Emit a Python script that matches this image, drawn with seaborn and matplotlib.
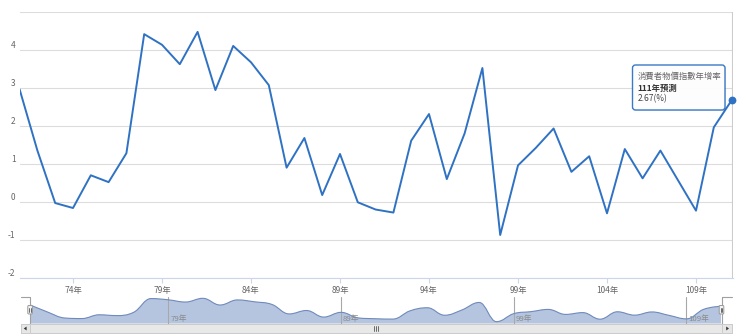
import matplotlib
matplotlib.use("Agg")
import matplotlib.pyplot as plt
import seaborn as sns
import pandas as pd
from matplotlib.path import Path
from matplotlib.patches import PathPatch, FancyBboxPatch, Rectangle, Polygon
from matplotlib.lines import Line2D
from matplotlib.transforms import IdentityTransform, blended_transform_factory

# ---------------- data ----------------
years = list(range(71, 112))
cpi_growth = [2.96, 1.35, -0.03, -0.16, 0.70, 0.52, 1.28, 4.41, 4.13, 3.62,
              4.47, 2.94, 4.10, 3.67, 3.07, 0.90, 1.68, 0.18, 1.26, -0.01,
              -0.20, -0.28, 1.61, 2.31, 0.60, 1.80, 3.52, -0.87, 0.96, 1.42,
              1.93, 0.79, 1.20, -0.30, 1.39, 0.62, 1.35, 0.56, -0.23, 1.96,
              2.67]
x_tick_years = [74, 79, 84, 89, 94, 99, 104, 109]
nav_tick_years = [79, 89, 99, 109]
y_ticks = [-2, -1, 0, 1, 2, 3, 4, 5]
y_tick_labels = ["-2", "-1", "0", "1", "2", "3", "4", ""]
series_name = "消費者物價指數年增率"
tooltip_header = "111年預測"
tooltip_value = f"{cpi_growth[-1]:.2f}(%)"

df = pd.DataFrame({"year": years, "cpi": cpi_growth})

# ---------------- style ----------------
sns.set_style("white")
plt.rcParams["font.family"] = ["Noto Sans CJK TC", "DejaVu Sans"]
plt.rcParams["axes.unicode_minus"] = False

BLUE = "#2f72c4"
W, H = 740, 335
fig = plt.figure(figsize=(W / 100, H / 100), dpi=100)
fig.patch.set_facecolor("white")


def fx(px):
    return px / W


def fy(py):
    return 1 - py / H


PX = IdentityTransform()

# ---------------- main chart ----------------
left_px, right_px = 19.6, 733.0
per_year = 17.8
ax = fig.add_axes([fx(left_px), fy(278), fx(right_px) - fx(left_px), fy(11.7) - fy(278)])
sns.lineplot(data=df, x="year", y="cpi", ax=ax, color=BLUE, linewidth=1.4, zorder=4)
ax.axvline(years[-1], color="#cccccc", lw=0.8, zorder=2)
ax.plot(years[-1], cpi_growth[-1], "o", ms=4.6, color=BLUE, clip_on=False, zorder=6)

ax.set_xlim(years[0], years[0] + (right_px - left_px) / per_year)
ax.set_ylim(-2, 5)
ax.set_yticks(y_ticks)
ax.set_yticklabels(y_tick_labels)
ax.set_xticks(x_tick_years)
ax.set_xticklabels([f"{y}年" for y in x_tick_years])
ax.set_xlabel("")
ax.set_ylabel("")
ax.yaxis.grid(True, color="#dcdcdc", lw=0.8, zorder=1)
ax.xaxis.grid(False)
for s in ["left", "top", "right"]:
    ax.spines[s].set_visible(False)
ax.spines["bottom"].set_color("#ccd6eb")
ax.spines["bottom"].set_linewidth(0.8)
ax.tick_params(axis="y", length=0, pad=3, labelsize=6, labelcolor="#666666")
ax.tick_params(axis="x", length=3.6, width=0.8, color="#ccd6eb", pad=2,
               labelsize=6, labelcolor="#666666", bottom=True)
for lbl in ax.get_yticklabels():
    lbl.set_verticalalignment("bottom")

# ---------------- navigator ----------------
nav = fig.add_axes([fx(30.1), fy(323.5), fx(721) - fx(30.1), fy(297) - fy(323.5)])
nav.set_xlim(years[0], years[-1])
nav_bottom, nav_top = -1.29, 4.77
nav.set_ylim(nav_bottom, nav_top)
nav.axis("off")


def spline_controls(xs, ys, i, smoothing=1.5):
    denom = smoothing + 1
    px_, py_ = xs[i], ys[i]
    lx, ly = xs[i - 1], ys[i - 1]
    nx, ny = xs[i + 1], ys[i + 1]
    lcx = (smoothing * px_ + lx) / denom
    lcy = (smoothing * py_ + ly) / denom
    rcx = (smoothing * px_ + nx) / denom
    rcy = (smoothing * py_ + ny) / denom
    if rcx != lcx:
        corr = ((rcy - lcy) * (rcx - px_)) / (rcx - lcx) + py_ - rcy
        lcy += corr
        rcy += corr
        if lcy > ly and lcy > py_:
            lcy = max(ly, py_)
            rcy = 2 * py_ - lcy
        elif lcy < ly and lcy < py_:
            lcy = min(ly, py_)
            rcy = 2 * py_ - lcy
        if rcy > ny and rcy > py_:
            rcy = max(ny, py_)
            lcy = 2 * py_ - rcy
        elif rcy < ny and rcy < py_:
            rcy = min(ny, py_)
            lcy = 2 * py_ - rcy
    return (lcx, lcy), (rcx, rcy)


xs, ys = years, cpi_growth
n = len(xs)
ctrl = [None] * n
for i in range(1, n - 1):
    ctrl[i] = spline_controls(xs, ys, i)
verts = [(xs[0], ys[0])]
codes = [Path.MOVETO]
for i in range(1, n):
    c1 = ctrl[i - 1][1] if ctrl[i - 1] else (xs[i - 1], ys[i - 1])
    c2 = ctrl[i][0] if ctrl[i] else (xs[i], ys[i])
    verts += [c1, c2, (xs[i], ys[i])]
    codes += [Path.CURVE4] * 3
line_path = Path(verts, codes)
fill_verts = [(xs[0], nav_bottom)] + verts + [(xs[-1], nav_bottom), (xs[0], nav_bottom)]
fill_codes = [Path.MOVETO, Path.LINETO] + codes[1:] + [Path.LINETO, Path.CLOSEPOLY]
nav.add_patch(PathPatch(Path(fill_verts, fill_codes), fc="#b6c5df", ec="none", zorder=1))
nav.add_patch(PathPatch(line_path, fc="none", ec="#6f8abb", lw=0.8, zorder=3))

bt = blended_transform_factory(nav.transData, nav.transAxes)
for y in nav_tick_years:
    nav.axvline(y, color="#a8a8a8", lw=0.8, zorder=2)
    nav.annotate(f"{y}年", xy=(y, 0), xycoords=bt, xytext=(2, 1), textcoords="offset pixels",
                 fontsize=5.6, color="#8a8a8a", ha="left", va="bottom", zorder=4)

# navigator outline
outline_x = [20.7, 30.1, 30.1, 721.5, 721.5, 732]
outline_y = [297, 297, 323.5, 323.5, 296.5, 296.5]
fig.add_artist(Line2D(outline_x, [H - v for v in outline_y], transform=PX,
                      color="#a0a0a0", lw=0.8, zorder=5))

# handles
for cx in (30.1, 721.5):
    fig.add_artist(FancyBboxPatch((cx - 2.3, H - 314), 4.6, 8.5,
                                  boxstyle="round,pad=0,rounding_size=1",
                                  transform=PX, fc="#f2f2f2", ec="#999999", lw=0.7, zorder=6))
    for dx in (-0.8, 0.8):
        fig.add_artist(Line2D([cx + dx, cx + dx], [H - 312, H - 308], transform=PX,
                              color="#333333", lw=0.5, zorder=7))

# scrollbar
sb_top, sb_h = 324, 9
fig.add_artist(Rectangle((20.7, H - sb_top - sb_h), 711.3, sb_h, transform=PX,
                         fc="#f2f2f2", ec="#cccccc", lw=0.7, zorder=4))
fig.add_artist(Rectangle((30.1, H - sb_top - sb_h), 691.4, sb_h, transform=PX,
                         fc="#e8e8e8", ec="#cccccc", lw=0.7, zorder=5))
for bx in (20.7, 722.0):
    fig.add_artist(Rectangle((bx, H - sb_top - sb_h), 9.7, sb_h, transform=PX,
                             fc="#e6e6e6", ec="#cccccc", lw=0.7, zorder=6))
mid_y = H - sb_top - sb_h / 2
fig.add_artist(Polygon([(23.8, mid_y), (26.6, mid_y + 2), (26.6, mid_y - 2)], closed=True,
                       transform=PX, fc="#333333", ec="none", zorder=7))
fig.add_artist(Polygon([(729.0, mid_y), (726.2, mid_y + 2), (726.2, mid_y - 2)], closed=True,
                       transform=PX, fc="#333333", ec="none", zorder=7))
grip_cx = (30.1 + 721.5) / 2
for dx in (-2, 0, 2):
    fig.add_artist(Line2D([grip_cx + dx, grip_cx + dx], [mid_y - 2.5, mid_y + 2.5], transform=PX,
                          color="#555555", lw=0.6, zorder=7))

# ---------------- tooltip ----------------
tx0, ty0, tw, th = 632.5, 65, 92.5, 45
fig.add_artist(FancyBboxPatch((tx0 + 1, H - ty0 - th - 1), tw, th,
                              boxstyle="round,pad=0,rounding_size=3", transform=PX,
                              fc="black", ec="none", alpha=0.08, zorder=8))
fig.add_artist(FancyBboxPatch((tx0, H - ty0 - th), tw, th,
                              boxstyle="round,pad=0,rounding_size=3", transform=PX,
                              fc="white", ec=BLUE, lw=1.0, alpha=0.95, zorder=9))
fig.text(fx(637.5), fy(76), series_name, fontsize=6, color="#666666", va="center", ha="left", zorder=10)
fig.text(fx(637.5), fy(88.3), tooltip_header, fontsize=6, color="#333333", fontweight="bold",
         va="center", ha="left", zorder=10)
fig.text(fx(637.5), fy(98.6), tooltip_value, fontsize=6, color="#444444", va="center", ha="left", zorder=10)

fig.savefig("out.png", dpi=100, facecolor="white")
